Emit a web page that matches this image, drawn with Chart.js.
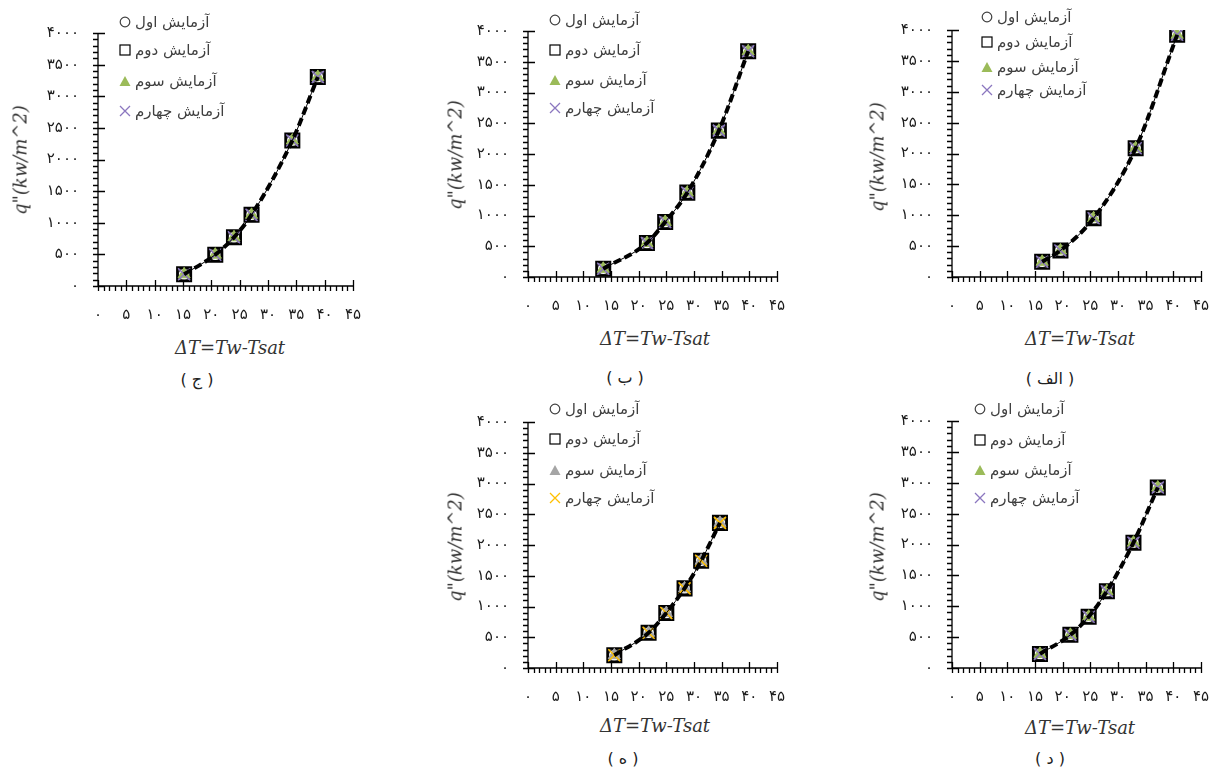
<!DOCTYPE html>
<html>
<head>
<meta charset="utf-8">
<script src="https://cdn.jsdelivr.net/npm/chart.js@4/dist/chart.umd.min.js"></script>
<style>
  html, body { margin:0; padding:0; background:#fff; }
  #page { position:relative; width:1218px; height:767px; overflow:hidden; background:#fff; }
  canvas { position:absolute; }
  .ytitle, .xtitle { position:absolute; font-family:"DejaVu Serif", serif; font-style:italic; font-size:18px; color:#333; white-space:nowrap; }
  .ytitle { transform:translate(-50%,-50%) rotate(-90deg); }
  .xtitle { transform:translate(-50%,-50%); }
  .tag { position:absolute; transform:translate(-50%,-50%); font-family:"DejaVu Sans", sans-serif; font-size:16px; color:#222; white-space:pre; }
  .lg { position:absolute; display:flex; align-items:center; transform:translateY(-50%); font-family:"DejaVu Sans", sans-serif; font-size:15px; color:#404040; white-space:nowrap; direction:ltr; }
  .lg svg { margin-right:4px; }
</style>
</head>
<body>
<div id="page"></div>
<script>
// ---------- data ----------
const xTickLabels = ['۰','۵','۱۰','۱۵','۲۰','۲۵','۳۰','۳۵','۴۰','۴۵'];
const yTickLabels = ['۰','۵۰۰','۱۰۰۰','۱۵۰۰','۲۰۰۰','۲۵۰۰','۳۰۰۰','۳۵۰۰','۴۰۰۰'];
const seriesNames = ['آزمایش اول','آزمایش دوم','آزمایش سوم','آزمایش چهارم'];
const panelTags = ['( الف )','( ب )','( ج )','( د )','( ه )'];
const xTitle = 'ΔT=Tw-Tsat';
const yTitle = 'q"(kw/m^2)';

// panel الف
const alefDT = [16.3, 19.6, 25.6, 33.2, 40.7];
const alefQ  = [246, 429, 952, 2086, 3922];
// panel ب
const beDT = [13.6, 21.5, 24.8, 28.8, 34.5, 39.8];
const beQ  = [134, 553, 895, 1372, 2380, 3671];
// panel ج
const jimDT = [15.2, 20.7, 24.0, 27.1, 34.3, 38.8];
const jimQ  = [185, 495, 770, 1125, 2300, 3305];
// panel د
const dalDT = [15.9, 21.4, 24.7, 28.0, 32.8, 37.2];
const dalQ  = [228, 537, 830, 1244, 2030, 2923];
// panel ه
const heDT = [15.6, 21.8, 25.0, 28.3, 31.3, 34.7];
const heQ  = [208, 572, 894, 1295, 1744, 2360];

const xMin = 0, xMax = 45, xStep = 5, xMinor = 1;
const yMin = 0, yMax = 4000, yStep = 500, yMinor = 100;

// ---------- styles / layout ----------
const colorsStd = { circle:'#404040', square:'#000000', tri:'#9BBB59', cross:'#8B77BF' };
const colorsAlt = { circle:'#404040', square:'#000000', tri:'#A5A5A5', cross:'#FFC000' };

const panels = [
  { tag:0, dT:alefDT, q:alefQ, col:colorsStd, box:{l:952,t:22,r:1209,b:277}, lgX:987, lgRows:[17,42,67,90],    yT:[877,157], xT:[1080,338], tg:[1050,378] },
  { tag:1, dT:beDT,   q:beQ,   col:colorsStd, box:{l:528,t:23,r:785,b:277},  lgX:555, lgRows:[20,50,80,108],   yT:[455,155], xT:[655,338],  tg:[625,377] },
  { tag:2, dT:jimDT,  q:jimQ,  col:colorsStd, box:{l:98,t:25,r:361,b:286},   lgX:125, lgRows:[22,50,81,111],   yT:[20,160],  xT:[230,347],  tg:[197,379] },
  { tag:3, dT:dalDT,  q:dalQ,  col:colorsStd, box:{l:952,t:413,r:1209,b:668},lgX:980, lgRows:[409,440,470,498],yT:[877,547], xT:[1080,727], tg:[1050,758] },
  { tag:4, dT:heDT,   q:heQ,   col:colorsAlt, box:{l:528,t:414,r:785,b:668}, lgX:555, lgRows:[409,439,470,498],yT:[455,547], xT:[655,725],  tg:[623,758] }
];

const PADL = 90, PADT = 20, PADR = 20, PADB = 45;

const axisPlugin = {
  id:'axisTicks',
  beforeDatasetsDraw(chart) {
    const {ctx, chartArea:a, scales:{x, y}} = chart;
    ctx.save();
    ctx.strokeStyle = '#000';
    ctx.lineWidth = 1.3;
    ctx.beginPath();
    ctx.moveTo(a.left, a.top); ctx.lineTo(a.left, a.bottom); ctx.lineTo(a.right, a.bottom);
    for (let v = xMin; v <= xMax + 1e-9; v += xMinor) {
      const px = Math.round(x.getPixelForValue(v)) + 0.5;
      if (v % xStep === 0) { ctx.moveTo(px, a.bottom - 6); ctx.lineTo(px, a.bottom + 5); }
      else { ctx.moveTo(px, a.bottom); ctx.lineTo(px, a.bottom + 5); }
    }
    for (let v = yMin; v <= yMax + 1e-9; v += yMinor) {
      const py = Math.round(y.getPixelForValue(v)) + 0.5;
      if (v % yStep === 0) { ctx.moveTo(a.left - 5, py); ctx.lineTo(a.left + 7, py); }
      else { ctx.moveTo(a.left - 5, py); ctx.lineTo(a.left, py); }
    }
    ctx.stroke();
    ctx.restore();
  }
};

const page = document.getElementById('page');

function legendMarker(kind, c) {
  const ns = 'http://www.w3.org/2000/svg';
  const s = document.createElementNS(ns, 'svg');
  s.setAttribute('width', '12'); s.setAttribute('height', '12');
  let el;
  if (kind === 0) { el = `<circle cx="6" cy="6" r="4.8" fill="none" stroke="${c.circle}" stroke-width="1.2"/>`; }
  else if (kind === 1) { el = `<rect x="1" y="1" width="10" height="10" fill="none" stroke="${c.square}" stroke-width="1.2"/>`; }
  else if (kind === 2) { el = `<polygon points="6,1 11.5,11 0.5,11" fill="${c.tri}"/>`; }
  else { el = `<path d="M1 1 L11 11 M11 1 L1 11" stroke="${c.cross}" stroke-width="1.3"/>`; }
  s.innerHTML = el;
  return s;
}

function addDiv(cls, text, x, y) {
  const d = document.createElement('div');
  d.className = cls; d.textContent = text;
  d.style.left = x + 'px'; d.style.top = y + 'px';
  page.appendChild(d);
  return d;
}

panels.forEach(p => {
  const cv = document.createElement('canvas');
  const cl = p.box.l - PADL, ct = p.box.t - PADT;
  const cw = (p.box.r - p.box.l) + PADL + PADR, ch = (p.box.b - p.box.t) + PADT + PADB;
  cv.width = cw; cv.height = ch;
  cv.style.left = cl + 'px'; cv.style.top = ct + 'px';
  cv.style.width = cw + 'px'; cv.style.height = ch + 'px';
  page.appendChild(cv);

  const pts = p.dT.map((v, i) => ({ x: v, y: p.q[i] }));
  const c = p.col;
  new Chart(cv.getContext('2d'), {
    type:'scatter',
    data:{ datasets:[
      { label:'trend', data:pts, showLine:true, cubicInterpolationMode:'monotone', borderColor:'#000', borderWidth:1, pointRadius:0, order:0 },
      { label:'trend2', data:pts, showLine:true, cubicInterpolationMode:'monotone', borderColor:'#000', borderWidth:4, borderDash:[8,4], pointRadius:0, order:0 },
      { label:seriesNames[3], data:pts, pointStyle:'crossRot', pointRadius:8.5, borderColor:c.cross, borderWidth:1.5, backgroundColor:'transparent', order:1 },
      { label:seriesNames[2], data:pts, pointStyle:'triangle', pointRadius:7, borderColor:c.tri, borderWidth:1, backgroundColor:c.tri, order:2 },
      { label:seriesNames[1], data:pts, pointStyle:'rect', pointRadius:9.5, borderColor:c.square, borderWidth:2.6, backgroundColor:'transparent', order:3 },
      { label:seriesNames[0], data:pts, pointStyle:'circle', pointRadius:6, borderColor:c.circle, borderWidth:1.5, backgroundColor:'transparent', order:4 }
    ]},
    options:{
      responsive:false, animation:false, devicePixelRatio:1,
      layout:{ padding:{ left:0, top:PADT, right:PADR, bottom:0 } },
      plugins:{ legend:{ display:false }, tooltip:{ enabled:false } },
      scales:{
        x:{ type:'linear', min:xMin, max:xMax,
            grid:{ display:false, drawTicks:false }, border:{ display:false },
            ticks:{ stepSize:xStep, autoSkip:false, maxRotation:0, minRotation:0, padding:20,
                    color:'#1a1a1a', font:{ family:'DejaVu Sans', size:15 },
                    callback:(v, i) => xTickLabels[i] },
            afterFit:s => { s.height = PADB; } },
        y:{ type:'linear', min:yMin, max:yMax,
            grid:{ display:false, drawTicks:false }, border:{ display:false },
            ticks:{ stepSize:yStep, autoSkip:false, padding:19,
                    color:'#1a1a1a', font:{ family:'DejaVu Sans', size:15 },
                    callback:(v, i) => yTickLabels[i] },
            afterFit:s => { s.width = PADL; } }
      }
    },
    plugins:[axisPlugin]
  });

  // legend
  p.lgRows.forEach((ry, k) => {
    const d = document.createElement('div');
    d.className = 'lg';
    d.style.left = (p.lgX - 6) + 'px'; d.style.top = ry + 'px';
    d.appendChild(legendMarker(k, c));
    const sp = document.createElement('span');
    sp.dir = 'rtl'; sp.textContent = seriesNames[k];
    d.appendChild(sp);
    page.appendChild(d);
  });

  addDiv('ytitle', yTitle, p.yT[0], p.yT[1]);
  addDiv('xtitle', xTitle, p.xT[0], p.xT[1]);
  addDiv('tag', panelTags[p.tag], p.tg[0], p.tg[1]);
});
</script>
</body>
</html>
